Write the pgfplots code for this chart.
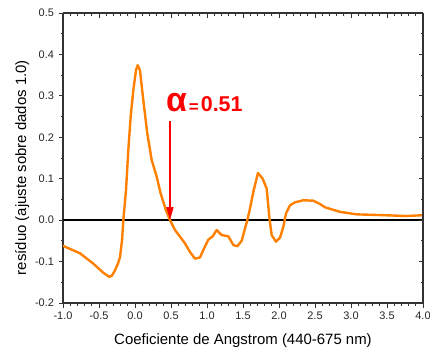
\documentclass[border=0pt]{standalone}
\usepackage{fontspec}
\setmainfont{Liberation Sans}
\usepackage{pgfplots}
\pgfplotsset{compat=1.18}
\usetikzlibrary{calc,arrows.meta}
\definecolor{curveorange}{HTML}{FF8000}
\definecolor{axgray}{HTML}{333333}
\begin{document}
\begin{tikzpicture}
\pgfplotsset{
  common/.style={
    scale only axis, width=360bp, height=290bp,
    xmin=-1, xmax=4, ymin=-0.2, ymax=0.5,
    xtick={-1,-0.5,...,4}, ytick={-0.2,-0.1,...,0.5},
    minor x tick num=4, minor y tick num=1,
    major tick length=4.5bp, minor tick length=2.5bp,
    every tick/.style={axgray, line width=0.8bp},
    axis line style={axgray, line width=1.1bp},
    /pgf/number format/assume math mode=true,
    /pgf/number format/.cd, fixed, fixed zerofill, precision=1,
  }
}
\begin{axis}[common,
  axis x line*=bottom, axis y line*=left,
  tick align=outside,
  ticklabel style={font=\fontsize{11}{13}\selectfont, text=black!85},
  xticklabel style={yshift=-1bp},
  yticklabel style={xshift=-1bp},
  xlabel={Coeficiente de Angstrom (440-675 nm)},
  ylabel={resíduo (ajuste sobre dados 1.0)},
  label style={font=\fontsize{15}{18}\selectfont},
  xlabel style={yshift=-7bp},
  ylabel style={at={(ticklabel cs:0.467)}, yshift=-1bp},
]
\addplot[black, line width=1.8bp, forget plot] coordinates {(-1,0) (4,0)};
\addplot[curveorange, line width=2.4bp, line join=round, line cap=round] coordinates {
(-1.0,-0.062) (-0.764,-0.080) (-0.579,-0.105) (-0.44,-0.127) (-0.357,-0.137)
(-0.32,-0.134) (-0.278,-0.121) (-0.235,-0.104) (-0.208,-0.089) (-0.18,-0.048) (-0.162,0)
(-0.125,0.072) (-0.093,0.169) (-0.06,0.25) (-0.023,0.314) (0.014,0.362)
(0.037,0.374) (0.069,0.362) (0.115,0.29) (0.171,0.209) (0.232,0.145)
(0.301,0.105) (0.357,0.064) (0.43,0.024) (0.486,0) (0.556,-0.024)
(0.625,-0.04) (0.694,-0.056) (0.764,-0.077) (0.833,-0.093) (0.903,-0.090)
(0.949,-0.072) (1.018,-0.047) (1.079,-0.039) (1.134,-0.024) (1.204,-0.036)
(1.296,-0.039) (1.366,-0.06) (1.421,-0.063) (1.481,-0.05) (1.528,-0.02)
(1.56,0) (1.597,0.028) (1.643,0.068) (1.708,0.114) (1.773,0.1)
(1.829,0.076) (1.865,0.008) (1.898,-0.036) (1.958,-0.052) (2.014,-0.042)
(2.06,-0.016) (2.097,0.016) (2.153,0.036) (2.222,0.043) (2.338,0.048)
(2.476,0.047) (2.569,0.039) (2.639,0.031) (2.847,0.02) (3.079,0.014)
(3.45,0.012) (3.77,0.01) (4.0,0.012)
};
\draw[red, line width=1.4bp, -{Triangle[length=13bp,width=7bp]}] (axis cs:0.486,0.239) -- (axis cs:0.486,0);
\node[red, anchor=base west, inner sep=0pt, font=\bfseries] at (axis cs:0.43,0.262)
  {{\fontsize{34}{34}\selectfont α}\hspace{2bp}\raisebox{-1bp}{\fontsize{17}{17}\selectfont =}\hspace{2bp}{\fontsize{21.5}{21.5}\selectfont 0.51}};
\end{axis}
\begin{axis}[common,
  axis x line*=top, axis y line*=right,
  tick align=inside,
  xticklabels={}, yticklabels={},
]
\end{axis}
\pgfresetboundingbox
\path ($(current axis.south west)+(-63bp,-48bp)$) rectangle ($(current axis.north east)+(7bp,13bp)$);
\end{tikzpicture}
\end{document}
